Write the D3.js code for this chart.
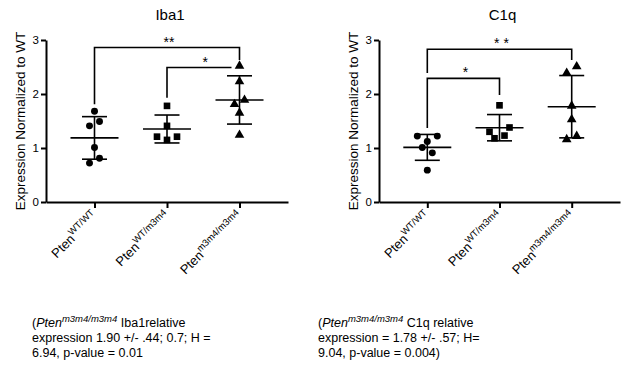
<!DOCTYPE html>
<html lang="en">
  <head>
    <meta charset='utf-8'>
    <script src='https://d3js.org/d3.v7.min.js'></script>
    <title>Iba1 / C1q expression</title>
    <style>
      body { margin: 0px; background: #fff; }
      text { font-family: 'Liberation Sans', Arial, sans-serif; fill: #000; }
      .tick line { stroke: #000; stroke-width: 2; }
      .tick text { font-size: 11.5px; }
      .domain { stroke: #000; stroke-width: 2; }
      .axis-label { font-size: 13.5px; }
      .title { font-size: 15px; }
      .note { font-size: 12.5px; }
    </style>
  </head>
  <body>
    <div id="viz"></div>
    <script>
      // genotype groups along x
      const groups = ['WT/WT', 'WT/m3m4', 'm3m4/m3m4'];
      const yTicks = [0, 1, 2, 3];

      // per-animal values (normalized to WT)
      const iba1WT = [1.68, 1.41, 1.49, 1.01, 0.72, 0.81];
      const iba1Het = [1.78, 1.41, 1.21, 1.21, 1.15];
      const iba1Hom = [2.52, 2.23, 1.89, 1.81, 1.65, 1.24];

      const c1qWT = [1.22, 1.22, 1.12, 1.01, 0.91, 0.59];
      const c1qHet = [1.79, 1.38, 1.30, 1.23, 1.18];
      const c1qHom = [2.51, 2.39, 1.78, 1.53, 1.22, 1.16];

      // significance brackets: group a -> group b, level, leg ends (data units)
      const iba1Sig = [
        { a: 0, b: 2, level: 2.86, legA: 1.81, legB: 2.63, label: '**' },
        { a: 1, b: 2, level: 2.49, legA: 1.93, legB: null, label: '*' }
      ];
      const c1qSig = [
        { a: 0, b: 2, level: 2.83, legA: 2.39, legB: 2.63, label: '* *' },
        { a: 0, b: 1, level: 2.29, legA: 1.37, legB: 1.98, label: '*' }
      ];

      const panels = [
        { title: 'Iba1', series: [iba1WT, iba1Het, iba1Hom], sig: iba1Sig, left: 46, right: 288,
          note: ['Iba1relative', 'expression 1.90 +/- .44; 0.7; H =', '6.94, p-value = 0.01'], noteX: 32 },
        { title: 'C1q', series: [c1qWT, c1qHet, c1qHom], sig: c1qSig, left: 379, right: 620,
          note: ['C1q relative', 'expression = 1.78 +/- .57; H=', '9.04, p-value = 0.004)'], noteX: 318 }
      ];

      const width = 630, height = 372;
      const yTop = 40, yBottom = 202;

      const svg = d3.select('#viz').append('svg')
        .attr('width', width)
        .attr('height', height);

      const yScale = d3.scaleLinear().domain([0, 3]).range([yBottom, yTop]);

      const symbols = [d3.symbolCircle, d3.symbolSquare, d3.symbolTriangle];
      const symbolSizes = [38, 44, 40];

      // scatter-dot style spread: points closer than one marker get grouped
      // and fanned out sideways
      const fan = {
        1: [0],
        2: [-5, 5],
        3: [0, 10, -10],
        4: [-5, 5, -10, 10],
        5: [5, -5, 0, -10, 10],
        6: [0, -5, 5, -10, 10, 0]
      };
      function spread(values, minGap) {
        const sorted = values.slice().sort((a, b) => a - b);
        const out = [];
        let cluster = [];
        const flush = () => {
          const offs = fan[cluster.length];
          cluster.forEach((v, k) => out.push({ v: v, dx: offs[k] }));
          cluster = [];
        };
        sorted.forEach(v => {
          if (cluster.length && yScale(cluster[cluster.length - 1]) - yScale(v) >= minGap) flush();
          cluster.push(v);
        });
        flush();
        return out;
      }

      panels.forEach(p => {
        const g = svg.append('g');
        const xScale = d3.scalePoint()
          .domain(groups)
          .range([p.left, p.right])
          .padding(0.669);

        g.append('text')
          .attr('class', 'title')
          .attr('x', (p.left + p.right) / 2 + 3)
          .attr('y', 20)
          .attr('text-anchor', 'middle')
          .text(p.title);

        // y axis
        const yAxis = d3.axisLeft(yScale)
          .tickValues(yTicks)
          .tickFormat(d3.format('d'))
          .tickSize(5)
          .tickSizeOuter(0)
          .tickPadding(2);
        g.append('g')
          .attr('transform', `translate(${p.left},0)`)
          .call(yAxis);

        g.append('text')
          .attr('class', 'axis-label')
          .attr('transform', `translate(${p.left - 21},${(yTop + yBottom) / 2}) rotate(-90)`)
          .attr('text-anchor', 'middle')
          .text('Expression Normalized to WT');

        // x axis
        const xAxis = d3.axisBottom(xScale)
          .tickSize(6)
          .tickSizeOuter(0)
          .tickFormat('');
        g.append('g')
          .attr('transform', `translate(0,${yBottom})`)
          .call(xAxis);

        groups.forEach(grp => {
          const lab = g.append('text')
            .attr('transform', `translate(${xScale(grp) + 4},${yBottom + 15}) rotate(-45)`)
            .attr('text-anchor', 'end')
            .style('font-size', '13px');
          lab.append('tspan').text('Pten');
          lab.append('tspan')
            .attr('dy', -5.5)
            .style('font-size', '9.5px')
            .text(grp);
        });

        // points + mean/SD bars
        p.series.forEach((vals, i) => {
          const cx = xScale(groups[i]);
          const mean = d3.mean(vals);
          const sd = d3.deviation(vals);

          const bars = g.append('g')
            .attr('stroke', '#000')
            .attr('stroke-width', 1.6);
          bars.append('line')
            .attr('x1', cx).attr('x2', cx)
            .attr('y1', yScale(mean + sd)).attr('y2', yScale(mean - sd));
          bars.append('line')
            .attr('x1', cx - 24).attr('x2', cx + 24)
            .attr('y1', yScale(mean)).attr('y2', yScale(mean));
          [mean + sd, mean - sd].forEach(v => {
            bars.append('line')
              .attr('x1', cx - 12.5).attr('x2', cx + 12.5)
              .attr('y1', yScale(v)).attr('y2', yScale(v));
          });

          const sym = d3.symbol().type(symbols[i]).size(symbolSizes[i]);
          g.selectAll(null)
            .data(spread(vals, 7))
            .enter()
            .append('path')
            .attr('d', sym)
            .attr('fill', '#000')
            .attr('transform', d => `translate(${cx + d.dx},${yScale(d.v)})`);
        });

        // significance brackets
        p.sig.forEach(s => {
          const xa = xScale(groups[s.a]);
          const xb = xScale(groups[s.b]);
          const yl = yScale(s.level);
          const xEnd = s.legB === null ? xb - 8 : xb;
          let path = `M${xa},${yScale(s.legA)}V${yl}H${xEnd}`;
          if (s.legB !== null) path += `V${yScale(s.legB)}`;
          g.append('path')
            .attr('d', path)
            .attr('fill', 'none')
            .attr('stroke', '#000')
            .attr('stroke-width', 1.6);
          g.append('text')
            .attr('x', (xa + xb) / 2 + 2)
            .attr('y', yl - 1)
            .attr('text-anchor', 'middle')
            .style('font-size', '14px')
            .text(s.label);
        });

        // caption under the panel
        const note = svg.append('text')
          .attr('class', 'note')
          .attr('x', p.noteX)
          .attr('y', 327);
        note.append('tspan').text('(');
        note.append('tspan').style('font-style', 'italic').text('Pten');
        note.append('tspan')
          .style('font-style', 'italic')
          .style('font-size', '9.5px')
          .attr('dy', -5)
          .text('m3m4/m3m4');
        note.append('tspan').attr('dy', 5).text(' ' + p.note[0]);
        p.note.slice(1).forEach((line, j) => {
          svg.append('text')
            .attr('class', 'note')
            .attr('x', p.noteX)
            .attr('y', 327 + 15 * (j + 1))
            .text(line);
        });
      });
    </script>
  </body>
</html>
